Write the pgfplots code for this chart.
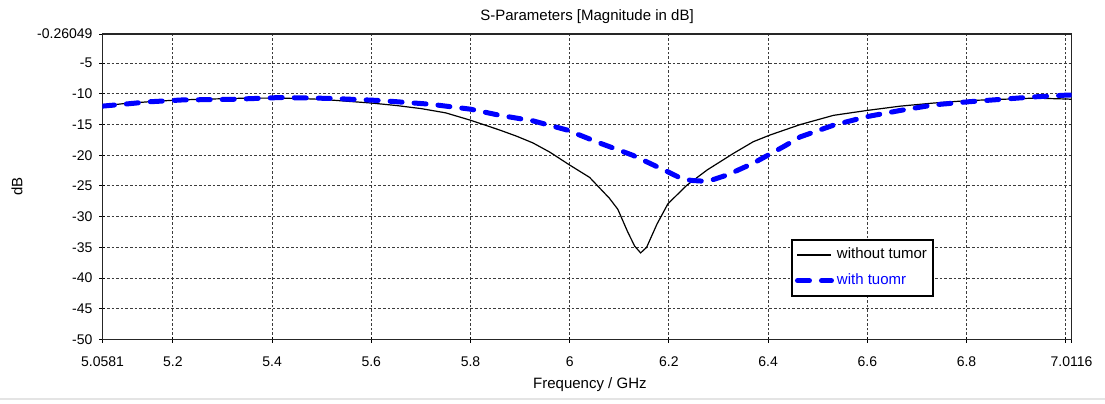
\documentclass[border=0pt]{standalone}
\usepackage{fontspec}
\setmainfont{Liberation Sans}
\usepackage{pgfplots}
\pgfplotsset{compat=1.18}
\definecolor{gridgray}{RGB}{60,60,60}
\definecolor{bandgray}{RGB}{228,228,228}

\newcommand{\lbl}{\fontsize{7}{8.4}\selectfont}
\newcommand{\txt}{\fontsize{7.5}{9}\selectfont}

\begin{document}
\begin{tikzpicture}
\path[use as bounding box] (-51.25pt,-31.75pt) rectangle (501.25pt,169.75pt);
\fill[white] (-51.25pt,-31.75pt) rectangle (501.25pt,169.75pt);
\draw[bandgray, line width=0.8pt] (-51.25pt,-29.75pt) -- (501.25pt,-29.75pt);
\begin{axis}[
  scale only axis,
  width=484.5pt, height=152.75pt,
  xmin=5.0581, xmax=7.0116, ymin=-50, ymax=-0.26049,
  xtick={5.0581,5.2,5.4,5.6,5.8,6.0,6.2,6.4,6.6,6.8,7.0,7.0116},
  xticklabels={5.0581,5.2,5.4,5.6,5.8,6,6.2,6.4,6.6,6.8,,7.0116},
  ytick={-50,-45,-40,-35,-30,-25,-20,-15,-10,-5,-0.26049},
  yticklabels={-50,-45,-40,-35,-30,-25,-20,-15,-10,-5,-0.26049},
  xtick pos=bottom, ytick pos=left,
  tick align=center,
  major tick length=3pt,
  tick style={black, line width=0.5pt},
  ticklabel style={font=\lbl},
  xticklabel style={yshift=-3.5pt},
  grid=major,
  major grid style={gridgray, line width=0.5pt, dash pattern=on 1.3pt off 1pt},
  axis line style={black!85, line width=0.7pt},
  every axis title shift=0pt,
  title={S-Parameters [Magnitude in dB]},
  title style={font=\txt, at={(axis description cs:0.5,1.0556)}, anchor=center},
  xlabel={Frequency / GHz},
  xlabel style={font=\txt, at={(axis description cs:0.503,-0.149)}, anchor=center},
  ylabel={dB},
  ylabel style={font=\txt, at={(axis description cs:-0.0882,0.5)}, anchor=center},
  legend cell align=left,
  legend style={at={(axis description cs:0.7105,0.329)}, anchor=north west,
    draw=black, line width=1pt, fill=white, font=\txt,
    inner xsep=1.5pt, inner ysep=2.5pt, row sep=3pt,
    nodes={inner sep=1.5pt}},
  legend image code/.code={\draw[#1] (0pt,0pt) -- (17pt,0pt);},
]
\addplot[black, line width=0.6pt] coordinates {
  (5.0581,-12.0)(5.10,-11.6)(5.15,-11.3)(5.20,-11.05)(5.25,-10.9)
  (5.30,-10.8)(5.35,-10.7)(5.40,-10.7)(5.45,-10.75)(5.50,-10.9)
  (5.55,-11.2)(5.60,-11.5)(5.65,-11.9)(5.70,-12.4)(5.75,-13.1)
  (5.80,-14.3)(5.859,-15.9)(5.893,-16.9)(5.926,-18.0)(5.96,-19.5)
  (6.00,-21.6)(6.04,-23.6)(6.06,-25.3)(6.08,-27.0)(6.097,-28.8)
  (6.117,-32.5)(6.131,-34.8)(6.143,-35.9)(6.155,-35.0)(6.176,-31.2)
  (6.198,-27.9)(6.236,-24.9)(6.277,-22.4)(6.33,-19.7)(6.37,-17.8)
  (6.404,-16.7)(6.465,-15.0)(6.532,-13.5)(6.60,-12.7)(6.667,-12.0)
  (6.734,-11.5)(6.803,-11.1)(6.869,-10.9)(6.936,-10.7)(7.004,-10.85)
  (7.0116,-10.9)
};
\addlegendentry{without tumor}
\addplot[blue, line width=2.5pt, line cap=round, dash pattern=on 6pt off 6pt] coordinates {
  (5.0581,-12.0)(5.10,-11.7)(5.152,-11.3)(5.218,-11.0)(5.318,-10.9)
  (5.418,-10.6)(5.52,-10.75)(5.62,-11.1)(5.72,-11.7)(5.80,-12.5)
  (5.859,-13.5)(5.926,-14.4)(5.995,-15.9)(6.06,-18.0)(6.127,-20.0)
  (6.198,-22.7)(6.223,-23.7)(6.245,-24.1)(6.265,-24.2)(6.288,-24.0)
  (6.318,-23.2)(6.37,-21.3)(6.431,-18.6)(6.465,-17.0)(6.532,-15.1)
  (6.60,-13.7)(6.667,-12.7)(6.734,-11.8)(6.803,-11.3)(6.869,-10.9)
  (6.936,-10.5)(7.004,-10.2)(7.0116,-10.2)
};
\addlegendentry{\textcolor{blue}{with tuomr}}
\end{axis}
\end{tikzpicture}
\end{document}
